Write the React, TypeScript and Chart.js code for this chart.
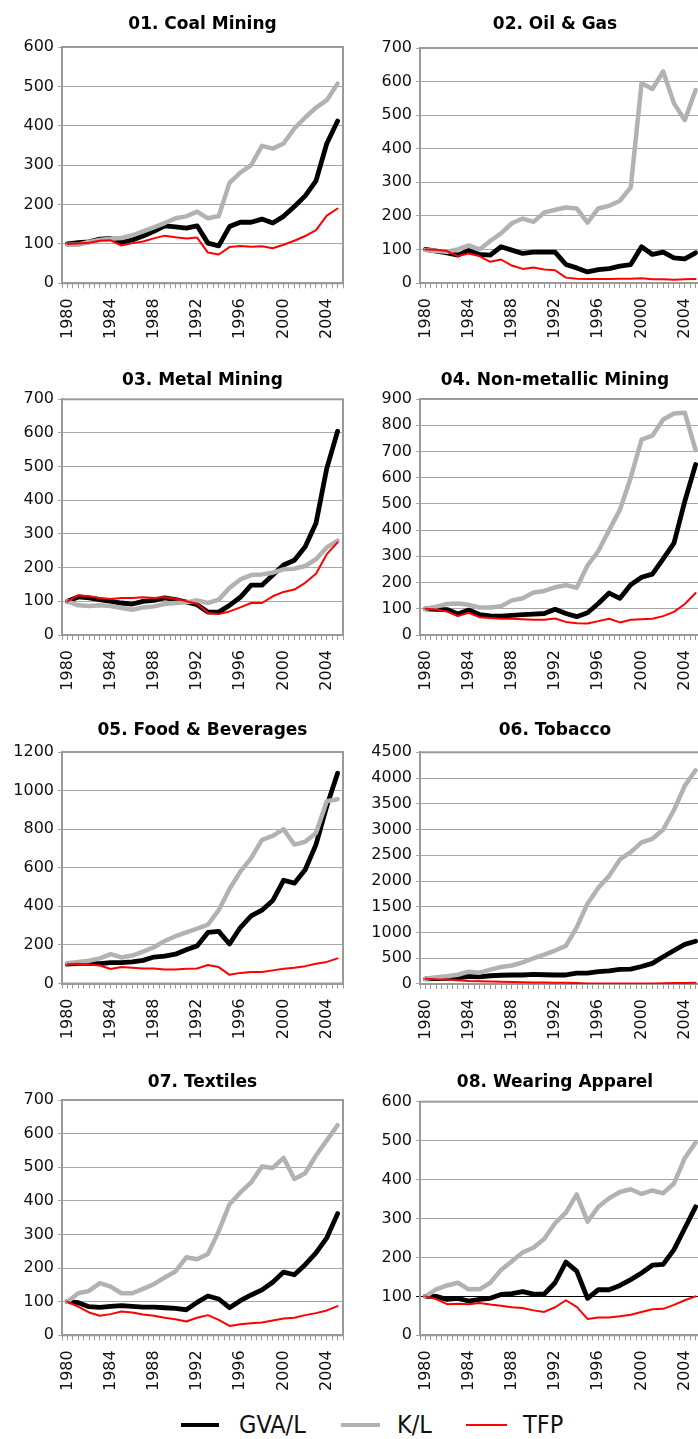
import React, { useEffect, useRef } from 'react';
import { Chart, registerables } from 'chart.js';

Chart.register(...registerables);

const years = [1980, 1981, 1982, 1983, 1984, 1985, 1986, 1987, 1988, 1989, 1990, 1991, 1992, 1993, 1994, 1995, 1996, 1997, 1998, 1999, 2000, 2001, 2002, 2003, 2004, 2005];
const yearTickLabels = [1980, 1984, 1988, 1992, 1996, 2000, 2004];
const seriesNames = ['GVA/L', 'K/L', 'TFP'];
const seriesColors = ['#000000', '#b2b2b2', '#ff0000'];
const seriesWidths = [4.8, 4.5, 2];

const coalGVA = [100, 103, 105, 112, 114, 104, 110, 120, 132, 146, 143, 140, 146, 102, 95, 144, 155, 155, 163, 153, 170, 195, 222, 260, 355, 412];
const coalKL = [98, 98, 105, 110, 113, 115, 122, 132, 142, 153, 165, 170, 182, 165, 171, 255, 281, 300, 349, 342, 355, 393, 421, 446, 465, 507];
const coalTFP = [100, 101, 103, 108, 109, 96, 102, 106, 114, 121, 117, 114, 116, 78, 73, 92, 95, 93, 94, 89, 98, 108, 120, 135, 172, 190];

const oilGVA = [100, 95, 90, 83, 97, 85, 83, 108, 98, 88, 92, 92, 92, 55, 45, 33, 40, 43, 50, 55, 108, 85, 92, 75, 72, 90];
const oilKL = [98, 95, 93, 100, 112, 100, 125, 148, 178, 192, 182, 210, 218, 225, 222, 180, 222, 230, 245, 285, 595, 578, 630, 535, 485, 575];
const oilTFP = [100, 99, 95, 80, 88, 80, 63, 70, 52, 42, 46, 40, 38, 16, 13, 12, 12, 12, 13, 13, 14, 11, 11, 10, 11, 12];

const metalGVA = [100, 113, 110, 105, 100, 95, 92, 100, 103, 110, 105, 98, 90, 68, 68, 88, 112, 148, 148, 178, 208, 222, 262, 332, 495, 605];
const metalKL = [100, 88, 86, 88, 86, 80, 75, 82, 85, 92, 95, 97, 103, 95, 105, 140, 165, 178, 180, 185, 195, 197, 205, 225, 260, 280];
const metalTFP = [100, 118, 115, 110, 107, 110, 110, 112, 110, 112, 108, 100, 93, 65, 62, 70, 82, 95, 95, 115, 128, 135, 155, 182, 240, 275];

const nonmetGVA = [100, 98, 97, 80, 95, 78, 73, 72, 75, 78, 80, 82, 98, 82, 70, 85, 120, 160, 140, 192, 220, 232, 290, 350, 510, 650];
const nonmetKL = [100, 108, 118, 120, 115, 105, 105, 110, 132, 140, 162, 168, 182, 190, 180, 265, 320, 400, 478, 600, 745, 760, 822, 845, 848, 705];
const nonmetTFP = [100, 97, 90, 72, 85, 68, 65, 62, 62, 60, 58, 58, 63, 50, 45, 44, 53, 62, 48, 58, 60, 62, 72, 88, 118, 160];

const foodGVA = [100, 105, 105, 103, 108, 108, 112, 120, 137, 142, 152, 175, 195, 265, 270, 205, 290, 350, 380, 430, 535, 520, 590, 720, 920, 1090];
const foodKL = [105, 112, 118, 130, 152, 135, 145, 165, 188, 220, 245, 265, 285, 305, 380, 490, 580, 650, 745, 765, 800, 720, 735, 780, 945, 955];
const foodTFP = [100, 102, 98, 93, 75, 85, 82, 78, 78, 72, 72, 76, 78, 96, 85, 45, 55, 60, 60, 68, 76, 82, 90, 102, 112, 130];

const tobaccoGVA = [100, 105, 110, 120, 150, 140, 160, 170, 175, 175, 185, 180, 175, 175, 210, 210, 240, 255, 285, 290, 340, 400, 530, 650, 770, 830];
const tobaccoKL = [100, 130, 150, 180, 240, 220, 280, 330, 360, 420, 500, 570, 650, 740, 1100, 1560, 1870, 2100, 2420, 2560, 2750, 2820, 3000, 3380, 3850, 4150];
const tobaccoTFP = [100, 90, 85, 75, 60, 55, 50, 45, 40, 35, 30, 28, 25, 22, 18, 12, 10, 10, 10, 10, 10, 12, 15, 18, 20, 25];

const textilesGVA = [100, 97, 85, 83, 86, 88, 86, 84, 84, 82, 80, 76, 98, 117, 108, 82, 103, 120, 135, 158, 188, 180, 210, 245, 290, 362];
const textilesKL = [100, 125, 132, 155, 145, 125, 125, 138, 152, 172, 190, 232, 226, 242, 310, 390, 425, 455, 502, 498, 528, 465, 482, 535, 580, 625];
const textilesTFP = [100, 85, 68, 58, 63, 71, 68, 62, 58, 52, 48, 41, 52, 60, 46, 28, 33, 36, 38, 44, 50, 52, 60, 66, 74, 87];

const apparelGVA = [100, 100, 92, 95, 88, 92, 95, 105, 107, 112, 106, 106, 135, 188, 165, 95, 117, 117, 128, 143, 160, 180, 182, 220, 275, 330];
const apparelKL = [100, 118, 128, 135, 118, 118, 135, 168, 190, 213, 225, 248, 288, 315, 362, 292, 330, 352, 368, 375, 363, 372, 365, 390, 455, 495];
const apparelTFP = [100, 93, 80, 81, 80, 83, 79, 76, 72, 70, 64, 60, 72, 90, 73, 42, 46, 46, 49, 53, 60, 67, 68, 78, 90, 100];

const panelTitles = ['01. Coal Mining', '02. Oil & Gas', '03. Metal Mining', '04. Non-metallic Mining', '05. Food & Beverages', '06. Tobacco', '07. Textiles', '08. Wearing Apparel'];
const panelYMax = [600, 700, 700, 900, 1200, 4500, 700, 600];
const panelYStep = [100, 100, 100, 100, 200, 500, 100, 100];

type Panel = {
  title: string;
  series: number[][];
  yMax: number;
  yStep: number;
  col: number;
  plotTop: number;
  plotH: number;
  titleBaseline: number;
  refLine: boolean;
};

const panels: Panel[] = [
  { title: panelTitles[0], series: [coalGVA, coalKL, coalTFP], yMax: panelYMax[0], yStep: panelYStep[0], col: 0, plotTop: 47, plotH: 236.3, titleBaseline: 28.5, refLine: false },
  { title: panelTitles[1], series: [oilGVA, oilKL, oilTFP], yMax: panelYMax[1], yStep: panelYStep[1], col: 1, plotTop: 48, plotH: 235, titleBaseline: 28.5, refLine: false },
  { title: panelTitles[2], series: [metalGVA, metalKL, metalTFP], yMax: panelYMax[2], yStep: panelYStep[2], col: 0, plotTop: 399.3, plotH: 235.7, titleBaseline: 385, refLine: false },
  { title: panelTitles[3], series: [nonmetGVA, nonmetKL, nonmetTFP], yMax: panelYMax[3], yStep: panelYStep[3], col: 1, plotTop: 399, plotH: 236, titleBaseline: 385, refLine: false },
  { title: panelTitles[4], series: [foodGVA, foodKL, foodTFP], yMax: panelYMax[4], yStep: panelYStep[4], col: 0, plotTop: 752, plotH: 231.5, titleBaseline: 735, refLine: false },
  { title: panelTitles[5], series: [tobaccoGVA, tobaccoKL, tobaccoTFP], yMax: panelYMax[5], yStep: panelYStep[5], col: 1, plotTop: 752.3, plotH: 231.7, titleBaseline: 735, refLine: false },
  { title: panelTitles[6], series: [textilesGVA, textilesKL, textilesTFP], yMax: panelYMax[6], yStep: panelYStep[6], col: 0, plotTop: 1100, plotH: 235.3, titleBaseline: 1087.3, refLine: false },
  { title: panelTitles[7], series: [apparelGVA, apparelKL, apparelTFP], yMax: panelYMax[7], yStep: panelYStep[7], col: 1, plotTop: 1101.7, plotH: 233.6, titleBaseline: 1087.3, refLine: true },
];

const PLOT_W = 281;
const RIGHT_PAD = 48;
const COLS = [
  { canvasLeft: 0, axisW: 62, titleCenter: 202.5 },
  { canvasLeft: 349, axisW: 71, titleCenter: 555 },
];
const TITLE_FONT = 17;
const X_AXIS_H = 62;
const FONT = 'DejaVu Sans';

const framePlugin = {
  id: 'plotFrame',
  beforeDatasetsDraw(chart: any) {
    const { ctx, chartArea: a } = chart;
    ctx.save();
    ctx.strokeStyle = '#9a9a9a';
    ctx.lineWidth = 2;
    ctx.strokeRect(a.left, a.top, a.right - a.left, a.bottom - a.top);
    ctx.restore();
  },
};

const titlePlugin = {
  id: 'panelTitle',
  afterDraw(chart: any, _args: any, opts: any) {
    const { ctx } = chart;
    ctx.save();
    ctx.font = `bold ${TITLE_FONT}px "${FONT}"`;
    ctx.fillStyle = '#000';
    ctx.textAlign = 'center';
    ctx.textBaseline = 'alphabetic';
    ctx.fillText(opts.text, opts.x, opts.y);
    ctx.restore();
  },
};

function ChartPanel({ p }: { p: Panel }) {
  const ref = useRef<HTMLCanvasElement | null>(null);
  const col = COLS[p.col];
  const canvasW = col.axisW + PLOT_W + RIGHT_PAD;
  const top = Math.floor(p.titleBaseline - 26);
  const padTop = p.plotTop - top;
  const height = Math.ceil(padTop + p.plotH + X_AXIS_H);
  const xAxisH = height - padTop - p.plotH;

  useEffect(() => {
    const order = [2, 1, 0];
    const chart = new Chart(ref.current as HTMLCanvasElement, {
      type: 'line',
      data: {
        datasets: p.series.map((arr, si) => ({
          label: seriesNames[si],
          data: years.map((yr, i) => ({ x: yr, y: arr[i] })),
          borderColor: seriesColors[si],
          backgroundColor: seriesColors[si],
          borderWidth: seriesWidths[si],
          pointRadius: 0,
          tension: 0,
          fill: false,
          borderJoinStyle: 'round',
          borderCapStyle: 'round',
          order: order[si],
        })),
      },
      options: {
        responsive: false,
        animation: false,
        layout: { padding: { left: 0, right: RIGHT_PAD, top: padTop, bottom: 0 } },
        plugins: {
          legend: { display: false },
          tooltip: { enabled: false },
          title: { display: false },
          panelTitle: { text: p.title, x: col.titleCenter - col.canvasLeft, y: p.titleBaseline - top },
        },
        scales: {
          x: {
            type: 'linear',
            min: 1979.5,
            max: 2005.5,
            afterFit: (s: any) => { s.height = xAxisH; },
            grid: { drawOnChartArea: false, drawTicks: true, tickLength: 5, color: '#9a9a9a', lineWidth: 1 },
            border: { display: true, color: '#9a9a9a', width: 2 },
            ticks: {
              stepSize: 0.5,
              autoSkip: false,
              maxRotation: 90,
              minRotation: 90,
              padding: 10,
              color: '#111',
              font: { family: FONT, size: 16 },
              callback: (v: any) => (yearTickLabels.includes(Number(v)) ? String(v) : ''),
            },
          },
          y: {
            min: 0,
            max: p.yMax,
            afterFit: (s: any) => { s.width = col.axisW; },
            grid: {
              color: (ctx: any) => (p.refLine && ctx.tick && ctx.tick.value === 100 ? '#000' : '#a6a6a6'),
              lineWidth: 1,
              tickLength: 4,
              drawTicks: true,
            },
            border: { color: '#8c8c8c', width: 2 },
            ticks: {
              stepSize: p.yStep,
              padding: 4,
              color: '#111',
              font: { family: FONT, size: 16 },
              callback: (v: any) => String(v),
            },
          },
        },
      },
      plugins: [framePlugin, titlePlugin],
    } as any);
    return () => chart.destroy();
  }, []);

  return (
    <canvas
      ref={ref}
      width={canvasW}
      height={height}
      style={{ position: 'absolute', left: col.canvasLeft, top, width: canvasW, height }}
    />
  );
}

const legendItems = [
  { swatchLeft: 181, swatchW: 38, textLeft: 239 },
  { swatchLeft: 341, swatchW: 39, textLeft: 397 },
  { swatchLeft: 466, swatchW: 41, textLeft: 523 },
];

export default function App() {
  return (
    <div style={{ position: 'absolute', left: 0, top: 0, width: 698, height: 1439, overflow: 'hidden', background: '#fff' }}>
      {panels.map((p, i) => (
        <ChartPanel key={i} p={p} />
      ))}
      <div style={{ position: 'absolute', left: 0, top: 1410, width: 698, height: 30 }}>
        {legendItems.map((it, i) => (
          <React.Fragment key={i}>
            <div
              style={{
                position: 'absolute',
                left: it.swatchLeft,
                top: 15 - seriesWidths[i] / 2,
                width: it.swatchW,
                height: seriesWidths[i],
                background: seriesColors[i],
              }}
            />
            <span
              style={{
                position: 'absolute',
                left: it.textLeft,
                top: 0,
                lineHeight: '30px',
                fontSize: 25,
                fontFamily: '"DejaVu Sans Condensed", "DejaVu Sans"',
                color: '#111',
                whiteSpace: 'nowrap',
              }}
            >
              {seriesNames[i]}
            </span>
          </React.Fragment>
        ))}
      </div>
    </div>
  );
}
